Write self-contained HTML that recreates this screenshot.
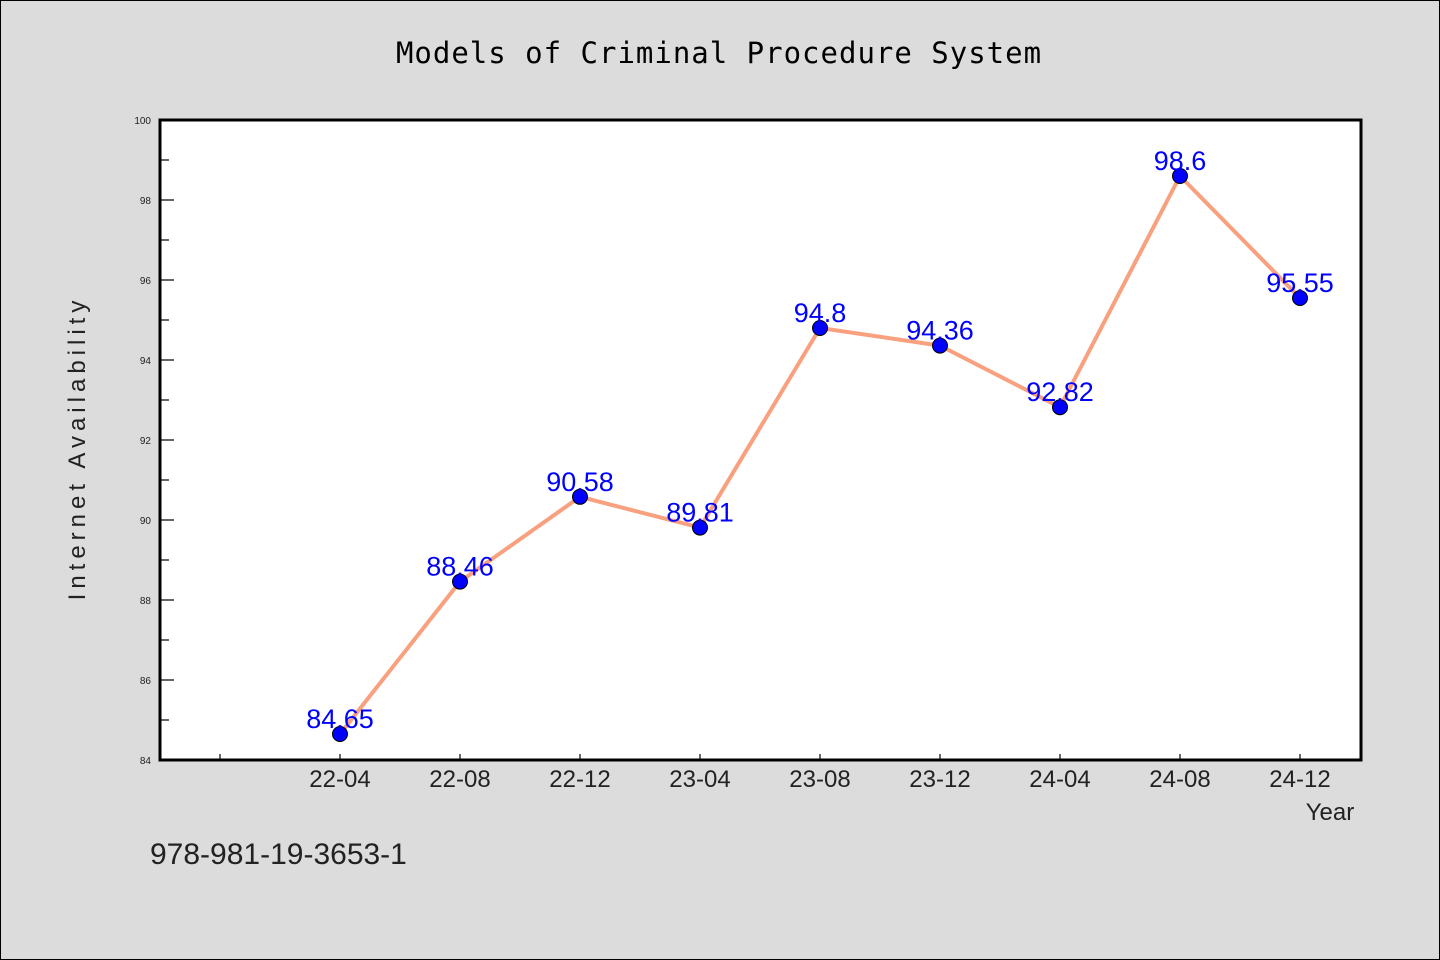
<!DOCTYPE html>
<html><head><meta charset="utf-8"><style>
html,body{margin:0;padding:0;background:#dcdcdc;}
svg{display:block;}
text{font-family:"WenQuanYi Zen Hei","Liberation Sans",sans-serif;}
</style></head><body>
<svg id="chart" width="1440" height="960">
<rect x="0.5" y="0.5" width="1439" height="959" fill="#dcdcdc" stroke="#000"/>
<text x="719" y="63" font-size="29" text-anchor="middle" fill="#000" style="font-family:'WenQuanYi Zen Hei Mono','DejaVu Sans Mono',monospace;letter-spacing:1px">Models of Criminal Procedure System</text>
<rect x="160" y="120" width="1201" height="640" fill="#fff"/>
<g id="yaxis"></g>
<g id="xaxis"></g>
<g id="series"></g>
<rect x="160" y="120" width="1201" height="640" fill="none" stroke="#000" stroke-width="3"/>
<text x="85" y="448" font-size="24" text-anchor="middle" transform="rotate(-90 85 448)" fill="#222" style="letter-spacing:5px">Internet Availability</text>
<text x="1330" y="820" font-size="24" text-anchor="middle" fill="#222">Year</text>
<text x="150" y="864" font-size="30" fill="#222">978-981-19-3653-1</text>
</svg>
<script>
const categories = ["22-04","22-08","22-12","23-04","23-08","23-12","24-04","24-08","24-12"];
const values = [84.65,88.46,90.58,89.81,94.8,94.36,92.82,98.6,95.55];
const valueLabels = ["84.65","88.46","90.58","89.81","94.8","94.36","92.82","98.6","95.55"];
const yTicks = [84,86,88,90,92,94,96,98,100];
const yMin = 84, yMax = 100;
const SVGNS = "http://www.w3.org/2000/svg";
const plotLeft = 160, plotRight = 1361, plotTop = 120, plotBottom = 760;
function yScale(v){ return plotBottom - (v - yMin) / (yMax - yMin) * (plotBottom - plotTop); }
function xScale(i){ return plotLeft + 60 + 120 * (i + 1); }
function mk(tag, attrs, parent){ const e = document.createElementNS(SVGNS, tag); for (const k in attrs) e.setAttribute(k, attrs[k]); parent.appendChild(e); return e; }
const ya = document.getElementById('yaxis');
for (let v = yMin; v <= yMax; v++) {
  const y = yScale(v);
  const major = (v % 2 === 0);
  const t = mk('line', {x1: plotLeft, x2: plotLeft + (major ? 14 : 9), y1: y, y2: y, stroke: '#000', 'stroke-width': 1.2}, ya);
  
  
}
yTicks.forEach(v => {
  const t = mk('text', {x: 151, y: yScale(v) + 4, 'font-size': 10, 'text-anchor': 'end', fill: '#222'}, ya);
  t.textContent = v;
  
  
});
const xa = document.getElementById('xaxis');
const t0 = mk('line', {x1: plotLeft + 60, x2: plotLeft + 60, y1: plotBottom, y2: plotBottom - 6, stroke: '#000', 'stroke-width': 1.2}, xa);


categories.forEach((c, i) => {
  const x = xScale(i);
  const t = mk('line', {x1: x, x2: x, y1: plotBottom, y2: plotBottom - 6, stroke: '#000', 'stroke-width': 1.2}, xa);
  
  
  const l = mk('text', {x: x, y: plotBottom + 27, 'font-size': 24, 'text-anchor': 'middle', fill: '#222'}, xa);
  l.textContent = c;
  
  
});
const s = document.getElementById('series');
const pts = values.map((v, i) => xScale(i) + ',' + yScale(v)).join(' ');
const line = mk('polyline', {points: pts, fill: 'none', stroke: '#f9a07f', 'stroke-width': 4, 'stroke-linejoin': 'round'}, s);


values.forEach((v, i) => {
  const p = mk('circle', {cx: xScale(i), cy: yScale(v), r: 7.5, fill: '#0000ff', stroke: '#000', 'stroke-width': 1}, s);
  
  
});
values.forEach((v, i) => {
  const l = mk('text', {x: xScale(i), y: yScale(v) - 6, 'font-size': 27, 'text-anchor': 'middle', fill: '#0000ff'}, s);
  l.textContent = valueLabels[i];
  
  
});
</script>
</body></html>
